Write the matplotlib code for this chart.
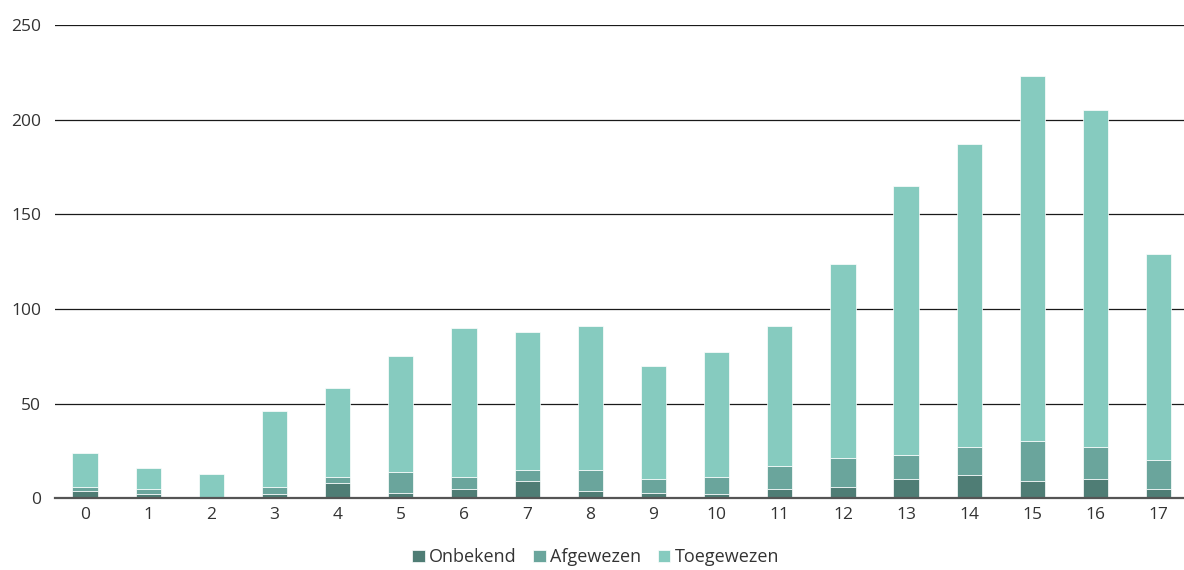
import matplotlib
matplotlib.use("Agg")
import matplotlib.pyplot as plt
import numpy as np

# ---------------------------------------------------------------- data
categories = [str(i) for i in range(18)]
onbekend = [4, 2, 0, 2, 8, 3, 5, 9, 4, 3, 2, 5, 6, 10, 12, 9, 10, 5]
afgewezen = [2, 3, 0, 4, 3, 11, 6, 6, 11, 7, 9, 12, 15, 13, 15, 21, 17, 15]
toegewezen = [18, 11, 13, 40, 47, 61, 79, 73, 76, 60, 66, 74, 103, 142, 160, 193, 178, 109]
y_ticks = [0, 50, 100, 150, 200, 250]

# ---------------------------------------------------------------- plot
plt.rcParams["font.family"] = ["Open Sans", "DejaVu Sans"]
fig = plt.figure(figsize=(11.84, 5.70), dpi=100)
ax = fig.add_axes([0.0465, 0.126, 0.9535, 0.830])

x = np.arange(len(categories))
w = 0.4
on = np.array(onbekend)
af = np.array(afgewezen)
to = np.array(toegewezen)
kw = dict(width=w, edgecolor="white", linewidth=0.5, zorder=3)
ax.bar(x, on, color="#4f7d75", label="Onbekend", **kw)
ax.bar(x, af, bottom=on, color="#6aa59c", label="Afgewezen", **kw)
ax.bar(x, to, bottom=on + af, color="#86cbbf", label="Toegewezen", **kw)

ax.set_xlim(-0.475, 17.4)
ax.set_ylim(0, 250)
ax.set_yticks(y_ticks)
ax.set_xticks(x)
ax.set_xticklabels(categories)
ax.yaxis.grid(True, color="#1a1a1a", linewidth=0.9, zorder=0)
ax.set_axisbelow(True)
for s in ("top", "right", "left"):
    ax.spines[s].set_visible(False)
ax.spines["bottom"].set_color("#555555")
ax.spines["bottom"].set_linewidth(1.6)
ax.spines["bottom"].set_zorder(4)
ax.tick_params(axis="both", length=0, labelsize=12.5, colors="#333333")
ax.tick_params(axis="y", pad=10)
ax.tick_params(axis="x", pad=6)

fig.legend(*ax.get_legend_handles_labels(), loc="center", bbox_to_anchor=(0.503, 0.022),
           ncol=3, frameon=False, fontsize=13, handlelength=0.7, handleheight=0.7,
           handletextpad=0.25, columnspacing=0.9, labelcolor="#333333")

fig.savefig("out.png", dpi=100)
